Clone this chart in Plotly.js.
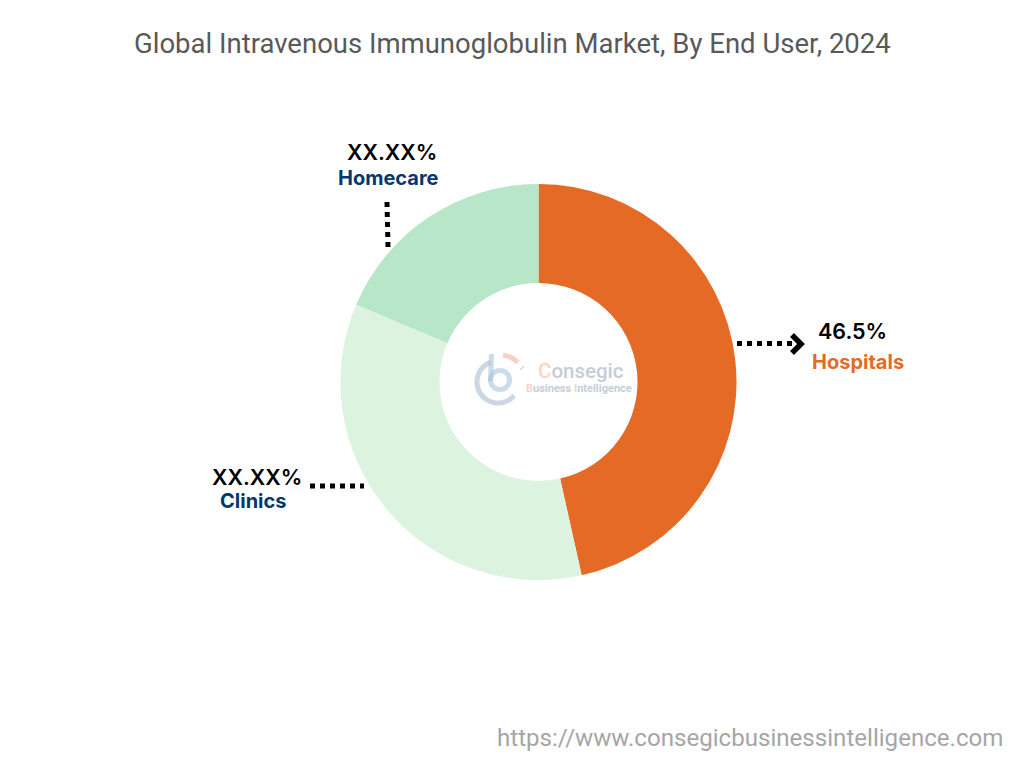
<!DOCTYPE html>
<html><head><meta charset="utf-8">
<script src="https://cdn.plot.ly/plotly-3.0.1.min.js"></script>
<style>html,body{margin:0;padding:0;background:#fff}#c{width:1024px;height:768px}</style>
</head><body><div id="c"></div>
<script>
const categories = ["Hospitals", "Clinics", "Homecare"];
const shares = [46.5, 34.9, 18.6];
const sliceColors = ["#E56A25", "#DBF3DF", "#B8E6C9"];
const valueLabels = ["46.5%", "XX.XX%", "XX.XX%"];
const labelColors = ["#E56A25", "#04386B", "#04386B"];

const W = 1024, H = 768;
const px = x => x / W, py = y => 1 - y / H;
const path = pts => pts.map((p, i) => (i ? "L" : "M") + px(p[0]).toFixed(5) + "," + py(p[1]).toFixed(5)).join(" ");
const arc = (cx, cy, r, a0, a1) => {
  const pts = [];
  for (let i = 0; i <= 40; i++) {
    const a = (a0 + (a1 - a0) * i / 40) * Math.PI / 180;
    pts.push([cx + r * Math.sin(a), cy - r * Math.cos(a)]);
  }
  return pts;
};
const lineShape = (pts, color, width, dash, opacity) => ({
  type: "path", xref: "paper", yref: "paper", path: path(pts),
  line: {color, width, dash: dash || "solid"}, opacity: opacity === undefined ? 1 : opacity
});
const note = (text, x, y, font, anchor) => ({
  text, x: px(x), y: py(y), xref: "paper", yref: "paper", showarrow: false,
  xanchor: anchor || "center", yanchor: "middle", font
});

const inter = "Inter, 'Liberation Sans', sans-serif";
const rob = "Roboto, 'Liberation Sans', sans-serif";
const valueFont = {size: 21.5, color: "#000", family: inter, weight: 600};
const nameFont = c => ({size: 20, color: c, family: inter, weight: 700});

const shapes = [
  lineShape([[737, 343.5], [792, 343.5]], "#000", 5, "5px,5px"),
  lineShape([[792, 335], [801, 344], [792, 353]], "#000", 5.5),
  lineShape([[310, 486], [364, 486]], "#000", 5, "5px,5px"),
  lineShape([[387, 202], [388, 247]], "#000", 5, "5px,5px"),
  // faint logo in the hole
  lineShape(arc(498, 382, 21, 130, 340), "#9DB0C6", 5, "solid", 0.5),
  lineShape([[491.5, 354], [490.5, 381]], "#A9C4DC", 5, "solid", 0.6),
  lineShape(arc(500, 380, 9.5, 0, 360), "#A9C4DC", 5, "solid", 0.6),
  lineShape(arc(500, 380, 25, 7, 46), "#F0B79A", 5, "solid", 0.6),
  lineShape([[521.5, 367.5], [522.5, 368.5]], "#F0B79A", 5, "solid", 0.7)
];

const annotations = [
  note("Global Intravenous Immunoglobulin Market, By End User, 2024", 512, 43, {size: 27.5, color: "#595959", family: rob}),
  note(valueLabels[0], 852, 331, valueFont),
  note(categories[0], 858, 362, nameFont(labelColors[0])),
  note(valueLabels[1], 257, 477, valueFont),
  note(categories[1], 253, 501, nameFont(labelColors[1])),
  note(valueLabels[2], 392, 152, valueFont),
  note(categories[2], 388, 178, nameFont(labelColors[2])),
  note("https://www.consegicbusinessintelligence.com", 1005, 738, {size: 24.1, color: "#A6A6A6", family: rob}, "right"),
  note('<span style="color:#F6D5C3">C</span><span style="color:#C6CDD8">onsegic</span>', 536, 371, {size: 20.5, color: "#C6CDD8", family: rob, weight: 500}, "left"),
  note('<span style="color:#F6D5C3">B</span>usiness <span style="color:#F6D5C3">I</span>ntelligence', 524, 388, {size: 11, color: "#C6CDD8", family: rob, weight: 700}, "left")
];

Plotly.newPlot("c", [{
  type: "pie", labels: categories, values: shares, hole: 0.5, sort: false,
  direction: "clockwise", rotation: 0, textinfo: "none", hoverinfo: "skip",
  marker: {colors: sliceColors, line: {width: 0}},
  domain: {x: [340.5 / W, 736.5 / W], y: [1 - 580 / H, 1 - 184 / H]}
}], {
  width: W, height: H, showlegend: false, paper_bgcolor: "#fff",
  margin: {l: 0, r: 0, t: 0, b: 0}, shapes, annotations
}, {displayModeBar: false, staticPlot: true});
</script></body></html>
